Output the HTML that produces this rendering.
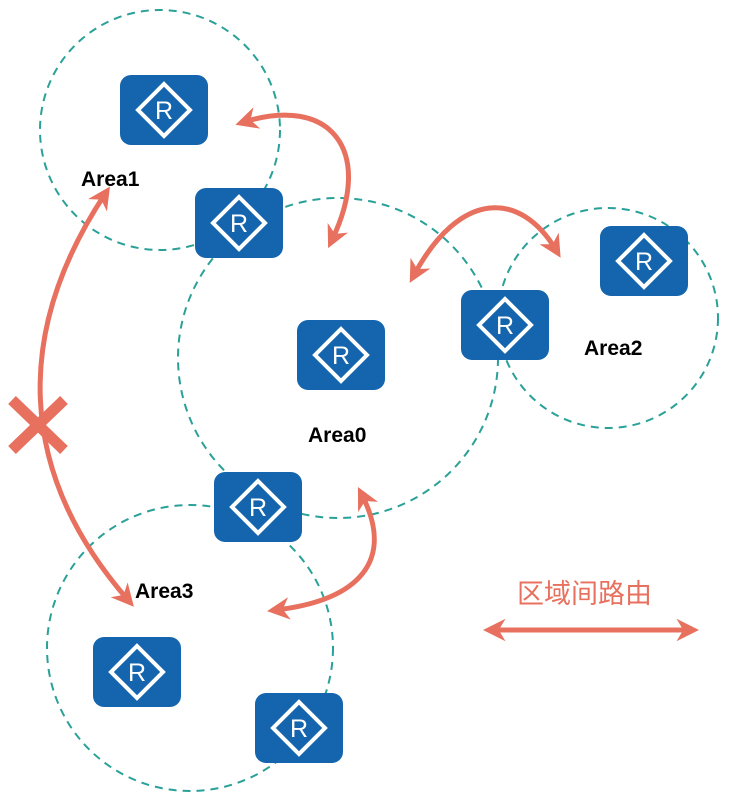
<!DOCTYPE html>
<html><head><meta charset="utf-8"><style>
html,body{margin:0;padding:0;background:#fff;width:749px;height:800px;overflow:hidden}
</style></head><body>
<svg width="749" height="800" viewBox="0 0 749 800" xmlns="http://www.w3.org/2000/svg">
<defs>
<marker id="ah" viewBox="0 0 10 10" refX="6" refY="5" markerWidth="4.5" markerHeight="4.5" orient="auto-start-reverse" markerUnits="strokeWidth">
<path d="M0,0 L10,5 L0,10 L3,5 z" fill="#e8705f"/></marker>
<g id="r">
<rect x="0" y="0" width="88" height="70" rx="11" fill="#1565ae"/>
<path d="M44,9 L70,35 L44,61 L18,35 z" fill="none" stroke="#fff" stroke-width="4"/>
<text x="44" y="44" text-anchor="middle" font-family="Liberation Sans, sans-serif" font-size="25" fill="#fff">R</text>
</g>
</defs>
<g fill="none" stroke="#2aa198" stroke-width="2" stroke-dasharray="8,6">
<circle cx="160" cy="130" r="120"/>
<circle cx="338" cy="358" r="160"/>
<circle cx="608" cy="318" r="110"/>
<circle cx="190" cy="648" r="143"/>
</g>
<use href="#r" x="120" y="75"/>
<use href="#r" x="195" y="188"/>
<use href="#r" x="297" y="320"/>
<use href="#r" x="461" y="290"/>
<use href="#r" x="600" y="226"/>
<use href="#r" x="214" y="472"/>
<use href="#r" x="93" y="637"/>
<use href="#r" x="255" y="693"/>
<g font-family="Liberation Sans, sans-serif" font-weight="bold" font-size="21" fill="#000">
<text x="81" y="186">Area1</text>
<text x="308" y="442">Area0</text>
<text x="584" y="355">Area2</text>
<text x="135" y="598">Area3</text>
</g>
<g fill="none" stroke="#e8705f" stroke-width="5" marker-start="url(#ah)" marker-end="url(#ah)">
<path d="M244,122 C330,95 375,150 332,240"/>
<path d="M414,275 C460,190 520,190 556,250"/>
<path d="M362,495 C395,560 360,600 276,610"/>
<path d="M105,194 C15,330 15,470 128,600"/>
<path d="M492,630 L690,630"/>
</g>
<g stroke="#e8705f" stroke-width="11">
<line x1="12" y1="400" x2="64" y2="450"/>
<line x1="64" y1="400" x2="12" y2="450"/>
</g>
<text x="517" y="603" font-family="Liberation Sans, Noto Sans CJK SC, sans-serif" font-size="27" fill="#e8705f">区域间路由</text>
</svg>
</body></html>
